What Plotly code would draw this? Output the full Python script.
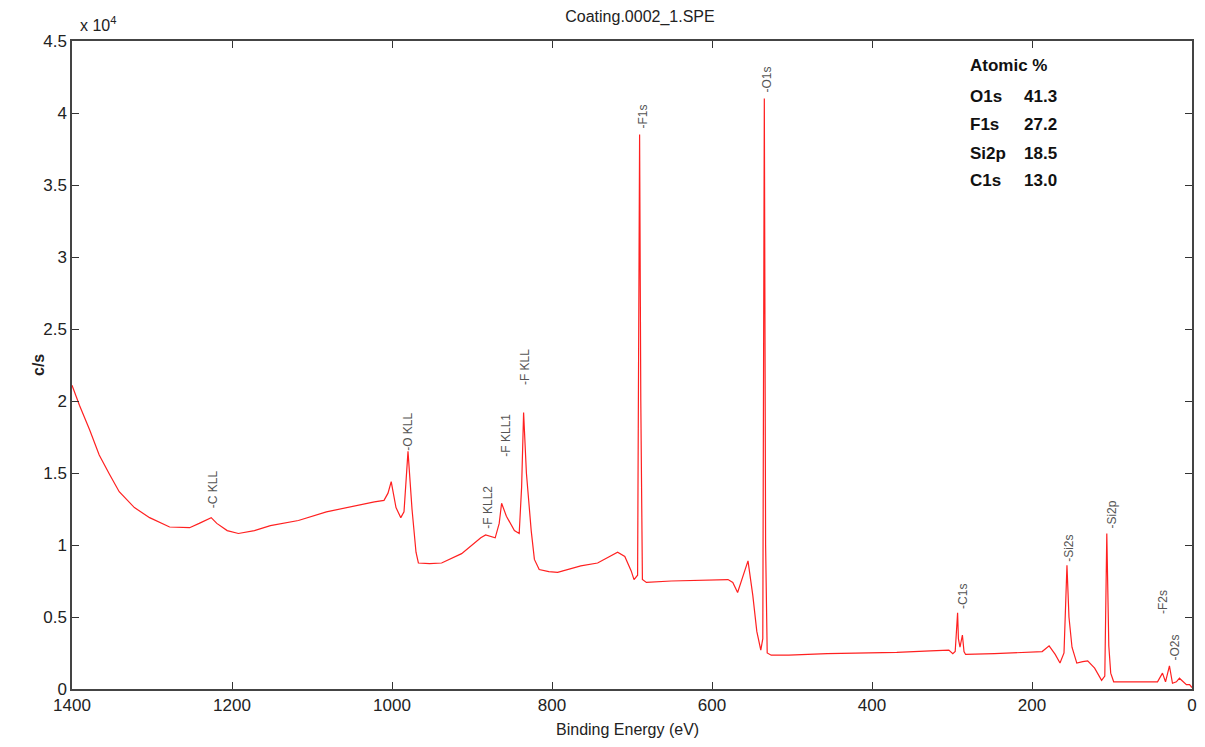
import plotly.graph_objects as go

# Binding energy (eV) and counts (c/s)
energy = [1400, 1390.7, 1378, 1366, 1353, 1341, 1322, 1303, 1278, 1253, 1241, 1233, 1226,
          1219, 1206, 1192, 1172, 1152, 1117, 1082, 1041, 1022, 1010, 1005, 1001, 995, 989,
          985, 980, 975, 970, 967, 953, 938, 913, 889, 883, 876, 871, 866, 863, 857, 847,
          841, 838, 835.5, 832, 826, 822, 816, 804, 793, 764, 743, 718, 709, 701, 697.5,
          693, 690.5, 689, 687, 682, 651, 580, 574, 568, 555, 549, 544, 539, 536.5, 534.6,
          533, 531, 526, 504, 456, 406, 369, 327, 304, 299, 296, 293, 292, 290, 287, 285,
          283, 247, 208, 187.3, 178.6, 171, 165, 160, 156.3, 153.8, 150, 144, 136.6, 130.4,
          121.7, 113, 109, 106.5, 104, 101.6, 97.9, 71.7, 43.1, 36.9, 33.1, 28.2, 24.4, 19.5,
          15.7, 7, 3, 0]
counts = [21100, 19700, 18000, 16250, 14900, 13700, 12600, 11900, 11250, 11200, 11500, 11700,
          11900, 11500, 11000, 10800, 11000, 11350, 11700, 12300, 12800, 13000, 13100, 13600,
          14400, 12600, 11900, 12300, 16500, 12500, 9500, 8750, 8700, 8750, 9400, 10500, 10700,
          10600, 10500, 11500, 12900, 12000, 11000, 10800, 14000, 19200, 15000, 11000, 9000,
          8300, 8150, 8100, 8550, 8750, 9500, 9200, 8200, 7600, 7900, 38500, 20000, 7600, 7400,
          7500, 7600, 7400, 6700, 8900, 6500, 4000, 2700, 3500, 41000, 10000, 2500, 2350, 2350,
          2450, 2500, 2550, 2650, 2700, 2450, 2600, 5300, 3500, 2900, 3750, 2600, 2400, 2450,
          2550, 2600, 3000, 2400, 1800, 2500, 8600, 5000, 2900, 1800, 1900, 1950, 1450, 600,
          900, 10800, 3000, 1100, 500, 500, 500, 1100, 500, 1600, 400, 500, 750, 300, 300, 100]

# Peak labels: text, energy, counts at label base
peak_labels = ["-C KLL", "-O KLL", "-F KLL2", "-F KLL1", "-F KLL", "-F1s", "-O1s",
               "-C1s", "-Si2s", "-Si2p", "-F2s", "-O2s"]
peak_energy = [1222.7, 980, 880.5, 858, 834.4, 686, 531, 286, 153, 100, 37, 20.6]
peak_base = [12400, 16400, 11000, 16000, 21000, 38800, 41300, 5400, 8700, 11000, 5100, 1800]

# Atomic % table
elements = ["O1s", "F1s", "Si2p", "C1s"]
atomic_pct = ["41.3", "27.2", "18.5", "13.0"]

x_ticks = [0, 200, 400, 600, 800, 1000, 1200, 1400]
y_ticks = [0, 5000, 10000, 15000, 20000, 25000, 30000, 35000, 40000, 45000]
y_ticktext = ["0", "0.5", "1", "1.5", "2", "2.5", "3", "3.5", "4", "4.5"]

OFF = 8  # page offset of the figure div
W, H = 1189, 731
L, T = 72 - OFF, 41 - OFF
R = W - (1192 - OFF)
B = H - (689 - OFF)
pw, ph = W - L - R, H - T - B

font = "Liberation Sans, Arial, sans-serif"


def px(xp):
    return (xp - OFF - L) / pw


def py(yp):
    return 1 - (yp - OFF - T) / ph


fig = go.Figure()
fig.add_trace(go.Scatter(x=energy, y=counts, mode="lines",
                         line=dict(color="#ff2020", width=1.2), showlegend=False))

anns = []
for t, e, b in zip(peak_labels, peak_energy, peak_base):
    anns.append(dict(x=e, y=b, xref="x", yref="y", text=t, textangle=-90,
                     showarrow=False, xanchor="center", yanchor="bottom",
                     font=dict(family=font, size=12, color="#555555")))

table = [("<b>Atomic %</b>", 968, 66)]
row_y = [96, 124, 153, 181]
for el, pct, yp in zip(elements, atomic_pct, row_y):
    table.append(("<b>%s</b>" % el, 968, yp))
    table.append(("<b>%s</b>" % pct, 1022, yp))
for text, xp, yp in table:
    anns.append(dict(x=px(xp), y=py(yp), xref="paper", yref="paper", text=text,
                     showarrow=False, xanchor="left", yanchor="middle",
                     font=dict(family=font, size=17, color="#111111")))

anns.append(dict(x=0.0, y=1.0, xref="paper", yref="paper", text="x 10<sup>4</sup>",
                 showarrow=False, xanchor="left", yanchor="bottom", xshift=6, yshift=5,
                 font=dict(family=font, size=16, color="#222222")))
# axis titles
anns.append(dict(x=px(627), y=py(729), xref="paper", yref="paper",
                 text="Binding Energy (eV)", showarrow=False, xanchor="center",
                 yanchor="middle", font=dict(family=font, size=16, color="#222222")))
anns.append(dict(x=px(38), y=py(365), xref="paper", yref="paper", text="<b>c/s</b>",
                 textangle=-90, showarrow=False, xanchor="center", yanchor="middle",
                 font=dict(family=font, size=16, color="#222222")))

fig.update_layout(
    width=W, height=H,
    margin=dict(l=L, r=R, t=T, b=B, autoexpand=False),
    paper_bgcolor="white", plot_bgcolor="white",
    annotations=anns,
    title=dict(text="Coating.0002_1.SPE", x=(640 - OFF) / W, xanchor="center",
               y=1 - (16 - OFF) / H, yanchor="middle",
               font=dict(family=font, size=16, color="#222222")),
    xaxis=dict(range=[1400, 0], tickvals=x_ticks, ticks="inside", ticklen=7,
               tickcolor="#333333", showline=True, linecolor="#444444", linewidth=1.5,
               mirror="allticks", showgrid=False, zeroline=False, automargin=False,
               ticklabeloverflow="allow",
               tickfont=dict(family=font, size=17, color="#222222")),
    yaxis=dict(range=[0, 45000], tickvals=y_ticks, ticktext=y_ticktext, ticks="inside",
               ticklen=7, tickcolor="#333333", showline=True, linecolor="#444444",
               linewidth=1.5, mirror="allticks", showgrid=False, zeroline=False,
               automargin=False, ticklabeloverflow="allow",
               tickfont=dict(family=font, size=17, color="#222222")),
)

fig.write_html("out.html")
